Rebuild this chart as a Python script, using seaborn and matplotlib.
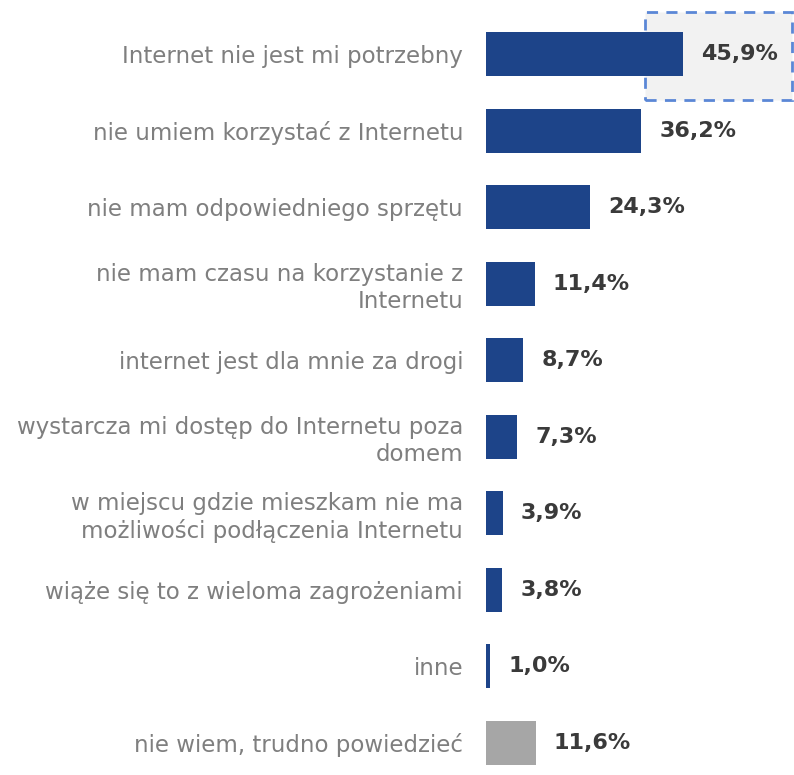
import pandas as pd
import numpy as np
from matplotlib import pyplot as plt
from matplotlib.patches import Rectangle
import seaborn as sns

# data
categories = [
    "Internet nie jest mi potrzebny",
    "nie umiem korzystać z Internetu",
    "nie mam odpowiedniego sprzętu",
    "nie mam czasu na korzystanie z\nInternetu",
    "internet jest dla mnie za drogi",
    "wystarcza mi dostęp do Internetu poza\ndomem",
    "w miejscu gdzie mieszkam nie ma\nmożliwości podłączenia Internetu",
    "wiąże się to z wieloma zagrożeniami",
    "inne",
    "nie wiem, trudno powiedzieć",
]
values = [45.9, 36.2, 24.3, 11.4, 8.7, 7.3, 3.9, 3.8, 1.0, 11.6]

BLUE = "#1d4489"
GREY = "#a6a6a6"
palette = {c: (GREY if c.startswith("nie wiem") else BLUE) for c in categories}

sns.set_theme(style="white")
plt.rcParams['font.family'] = ['DejaVu Sans']

df = pd.DataFrame({"powod": categories, "proc": values})

fig = plt.figure(figsize=(7.94, 7.75), dpi=100)
ax = fig.add_axes([0.612, 0.0, 0.388, 1.0])

# highlighted box behind the first bar
box = Rectangle((0.812, 0.871), 0.186, 0.113, transform=fig.transFigure,
                facecolor="#f2f2f2", edgecolor="#5b87d6", linestyle=(0, (4, 3)),
                linewidth=2, zorder=-1)
fig.patches.append(box)
ax.patch.set_alpha(0)

sns.barplot(data=df, x="proc", y="powod", hue="powod", palette=palette,
            order=categories, width=0.575, legend=False, ax=ax,
            saturation=1, linewidth=0, zorder=3)

ax.set_xlim(0, 71.8)
ax.set_ylim(9.418, -0.705)
ax.set_xlabel("")
ax.set_ylabel("")
ax.set_xticks([])
for s in ax.spines.values():
    s.set_visible(False)

ax.tick_params(axis="y", length=0, pad=16.5)
for lab in ax.get_yticklabels():
    lab.set_fontsize(16.5)
    lab.set_color("#7f7f7f")
    lab.set_multialignment("right")
    lab.set_linespacing(1.2)

for i, v in enumerate(values):
    ax.annotate(f"{v:.1f}%".replace(".", ","), xy=(v, i), xytext=(13, 0),
                textcoords="offset points", va="center", ha="left",
                fontsize=16, fontweight="bold", color="#3a3a3a", zorder=5)

fig.savefig("out.png", dpi=100)
